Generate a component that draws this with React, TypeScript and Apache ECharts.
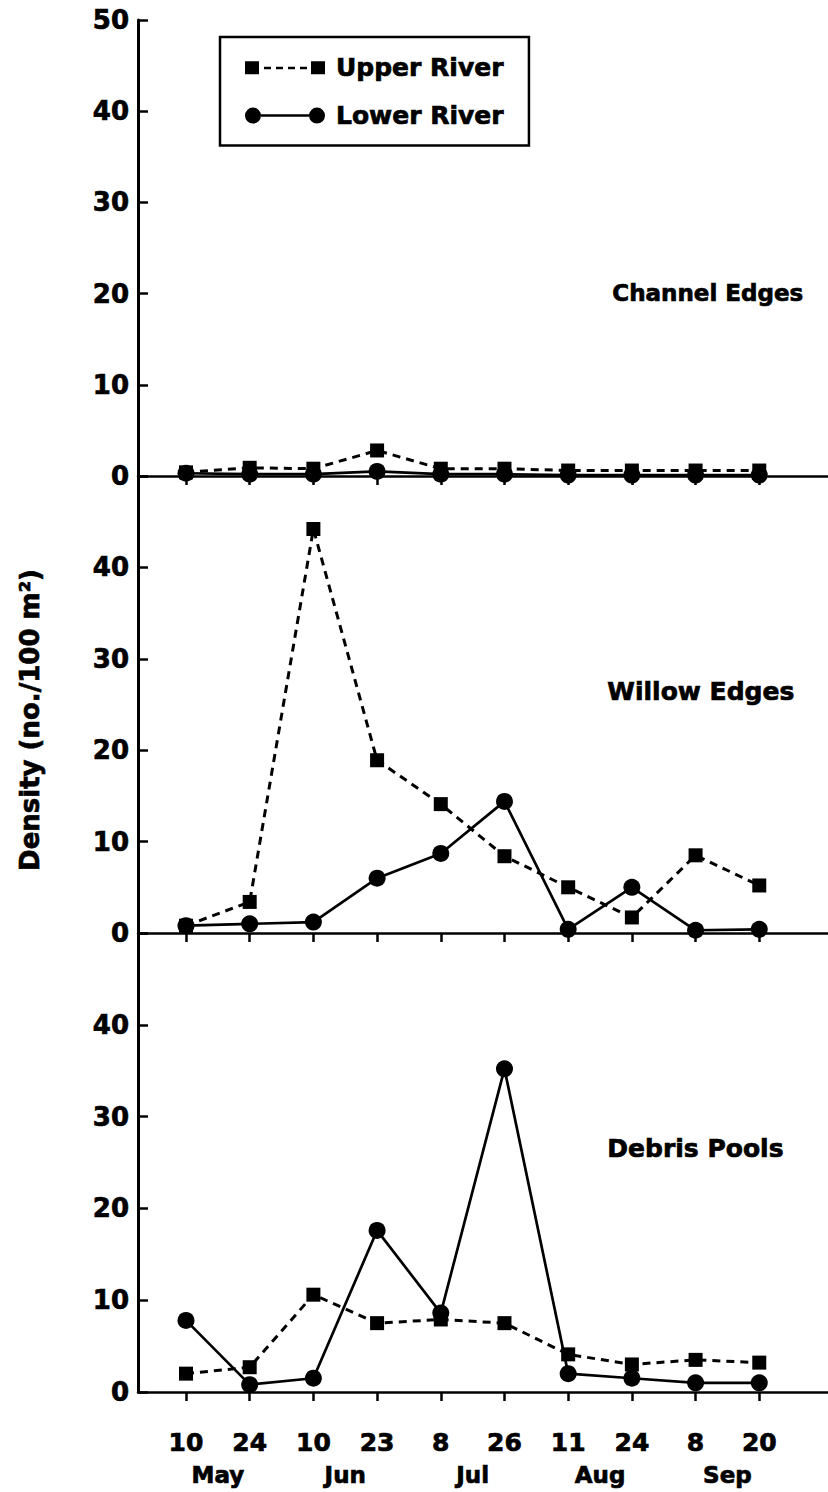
import React, { useEffect, useRef } from "react";
import * as echarts from "echarts";

const dayLabels = ["10", "24", "10", "23", "8", "26", "11", "24", "8", "20"];
const dayIndex = [0, 1, 2, 3, 4, 5, 6, 7, 8, 9];
const monthLabels = ["May", "Jun", "Jul", "Aug", "Sep"];
const monthPositions = [0.5, 2.5, 4.5, 6.5, 8.5];
const yTicks = [0, 10, 20, 30, 40, 50];

const panelNames = ["Channel Edges", "Willow Edges", "Debris Pools"];

const channelUpper = [0.4, 0.9, 0.8, 2.8, 0.8, 0.8, 0.6, 0.6, 0.6, 0.6];
const channelLower = [0.3, 0.2, 0.2, 0.5, 0.2, 0.2, 0.1, 0.1, 0.1, 0.1];
const willowUpper = [0.8, 3.4, 44.2, 18.9, 14.1, 8.4, 5.0, 1.7, 8.5, 5.2];
const willowLower = [0.8, 1.0, 1.2, 6.0, 8.7, 14.4, 0.4, 5.0, 0.3, 0.4];
const debrisUpper = [2.0, 2.7, 10.6, 7.5, 7.9, 7.5, 4.1, 3.0, 3.5, 3.2];
const debrisLower = [7.8, 0.8, 1.5, 17.6, 8.6, 35.2, 2.0, 1.5, 1.0, 1.0];

const upperSeries = [channelUpper, willowUpper, debrisUpper];
const lowerSeries = [channelLower, willowLower, debrisLower];

const FONT = "DejaVu Sans";
const BLACK = "#000";

const upperIcon =
  "path://M0,1.5h14v13h-14z M19,7h7v2.5h-7z M31,7h7v2.5h-7z M43,7h7v2.5h-7z M55,7h7v2.5h-7z M66,1.5h14v13h-14z";
const lowerIcon =
  "path://M0,8a8,8 0 1,0 16,0a8,8 0 1,0 -16,0z M16,6.75h48v2.5h-48z M64,8a8,8 0 1,0 16,0a8,8 0 1,0 -16,0z";

const heavy = { textBorderColor: BLACK, textBorderWidth: 0.7 };

export default function App() {
  const ref = useRef<HTMLDivElement>(null);

  useEffect(() => {
    if (!ref.current) return;
    const chart = echarts.init(ref.current, null, { renderer: "svg" });

    const grids = [
      { left: 138, right: 0, top: 20, height: 456 },
      { left: 138, right: 0, top: 476, height: 457 },
      { left: 138, right: 0, top: 933, height: 459 },
    ];
    const xMin = -0.7535;
    const xMax = 10.079;

    const xAxes: any[] = grids.map((_, i) => ({
      type: "value",
      gridIndex: i,
      min: xMin,
      max: xMax,
      position: "bottom",
      axisLine: { show: true, onZero: false, lineStyle: { color: BLACK, width: 2.5 } },
      axisTick: {
        show: true,
        customValues: dayIndex,
        length: 9,
        lineStyle: { color: BLACK, width: 2.5 },
      },
      axisLabel: {
        show: i === 2,
        customValues: dayIndex,
        formatter: (v: number) => dayLabels[Math.round(v)] ?? "",
        color: BLACK,
        fontFamily: FONT,
        fontWeight: "bold",
        fontSize: 25,
        margin: 38,
        ...heavy,
      },
      splitLine: { show: false },
    }));
    xAxes.push({
      type: "value",
      gridIndex: 2,
      min: xMin,
      max: xMax,
      position: "bottom",
      axisLine: { show: false },
      axisTick: { show: false },
      axisLabel: {
        show: true,
        customValues: monthPositions,
        formatter: (v: number) => {
          const k = monthPositions.indexOf(v);
          return k >= 0 ? monthLabels[k] : "";
        },
        color: BLACK,
        fontFamily: FONT,
        fontWeight: "bold",
        fontSize: 23,
        margin: 71,
        ...heavy,
      },
      splitLine: { show: false },
    });

    const yAxes = grids.map((_, i) => ({
      type: "value",
      gridIndex: i,
      min: 0,
      max: 50,
      interval: 10,
      axisLine: { show: true, onZero: false, lineStyle: { color: BLACK, width: 3 } },
      axisTick: { show: true, inside: true, length: 10, lineStyle: { color: BLACK, width: 2.5 } },
      axisLabel: {
        color: BLACK,
        fontFamily: FONT,
        fontWeight: "bold",
        fontSize: 26,
        margin: 9,
        ...heavy,
        formatter: (v: number) => (i > 0 && v === 50 ? "" : yTicks.includes(v) ? String(v) : ""),
      },
      splitLine: { show: false },
    }));

    const series: any[] = [];
    for (let p = 0; p < 3; p++) {
      series.push({
        type: "line",
        name: "Upper River",
        xAxisIndex: p,
        yAxisIndex: p,
        data: upperSeries[p].map((v, i) => [dayIndex[i], v]),
        symbol: "rect",
        symbolSize: 14,
        lineStyle: { color: BLACK, width: 3, type: [8, 6] },
        itemStyle: { color: BLACK },
        z: 3,
      });
      series.push({
        type: "line",
        name: "Lower River",
        xAxisIndex: p,
        yAxisIndex: p,
        data: lowerSeries[p].map((v, i) => [dayIndex[i], v]),
        symbol: "circle",
        symbolSize: 17,
        lineStyle: { color: BLACK, width: 2.7, type: "solid" },
        itemStyle: { color: BLACK },
        z: 4,
      });
    }

    const titleY = [295, 693, 1150];
    const titleX = [612, 607, 607];
    const titleSize = [23, 25, 25];

    chart.setOption({
      animation: false,
      backgroundColor: "#fff",
      grid: grids,
      xAxis: xAxes,
      yAxis: yAxes,
      series,
      legend: {
        orient: "vertical",
        left: 220,
        top: 37,
        selectedMode: false,
        itemWidth: 80,
        itemHeight: 16,
        itemGap: 22,
        padding: [18, 25, 17, 25],
        borderColor: BLACK,
        borderWidth: 2.5,
        data: [
          { name: "Upper River", icon: upperIcon },
          { name: "Lower River", icon: lowerIcon },
        ],
        textStyle: {
          color: BLACK,
          fontFamily: FONT,
          fontWeight: "bold",
          fontSize: 25,
          padding: [0, 0, 0, 6],
          ...heavy,
        },
      },
      graphic: [
        ...panelNames.map((t, i) => ({
          type: "text",
          left: titleX[i],
          top: titleY[i] - 14,
          style: {
            text: t,
            fill: BLACK,
            font: `bold ${titleSize[i]}px "${FONT}"`,
            stroke: BLACK,
            lineWidth: 0.7,
          },
        })),
        {
          type: "text",
          x: 30,
          y: 720,
          rotation: Math.PI / 2,
          style: {
            text: "Density (no./100 m²)",
            fill: BLACK,
            font: `bold 26px "${FONT}"`,
            align: "center",
            verticalAlign: "middle",
            stroke: BLACK,
            lineWidth: 0.7,
          },
        },
      ],
    });

    return () => chart.dispose();
  }, []);

  return (
    <div
      ref={ref}
      style={{ position: "absolute", left: 0, top: 0, width: 828, height: 1492, background: "#fff" }}
    />
  );
}
